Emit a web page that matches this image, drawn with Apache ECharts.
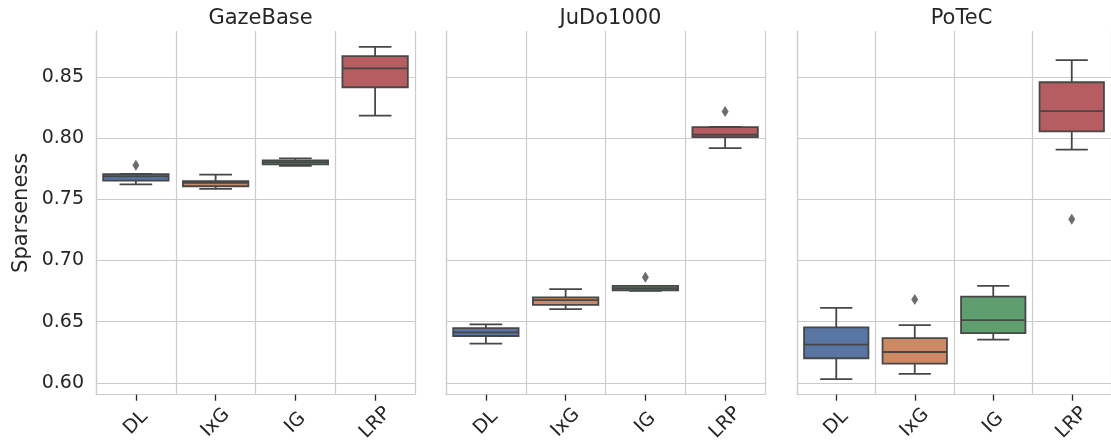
<!DOCTYPE html>
<html>
<head>
<meta charset="utf-8">
<script src="https://cdn.jsdelivr.net/npm/echarts@6/dist/echarts.min.js"></script>
<style>
  html, body { margin: 0; padding: 0; background: #ffffff; }
  #chart { width: 1111px; height: 444px; }
</style>
</head>
<body>
<div id="chart"></div>
<script>
// Attribution methods compared in every panel
const methods = ['DL', 'IxG', 'IG', 'LRP'];
const datasets = ['GazeBase', 'JuDo1000', 'PoTeC'];

// Box statistics per method: [lower whisker, Q1, median, Q3, upper whisker]
const gazeBaseStats = [
  [0.7623, 0.7653, 0.7688, 0.7705, 0.7708],
  [0.7586, 0.7607, 0.7634, 0.7648, 0.7702],
  [0.7773, 0.7786, 0.7803, 0.7818, 0.7835],
  [0.8185, 0.8416, 0.8571, 0.8671, 0.8747]
];
const juDoStats = [
  [0.6320, 0.6383, 0.6413, 0.6448, 0.6478],
  [0.6603, 0.6638, 0.6676, 0.6698, 0.6766],
  [0.6752, 0.6757, 0.6774, 0.6792, 0.6793],
  [0.7919, 0.8009, 0.8028, 0.8090, 0.8092]
];
const poTeCStats = [
  [0.6030, 0.6201, 0.6312, 0.6454, 0.6613],
  [0.6073, 0.6157, 0.6252, 0.6366, 0.6472],
  [0.6353, 0.6407, 0.6513, 0.6704, 0.6792],
  [0.7906, 0.8055, 0.8221, 0.8457, 0.8638]
];

// Outliers: [method index, value]
const gazeBaseOutliers = [[0, 0.7778]];
const juDoOutliers = [[2, 0.6863], [3, 0.8218]];
const poTeCOutliers = [[1, 0.6682], [3, 0.7338]];

// Y axis range and ticks
const yMin = 0.5903;
const yMax = 0.8876;
const yStep = 0.05;

const boxColors = ['#5975a4', '#cc8963', '#5f9e6e', '#b55d60'];
const lineColor = '#474747';
const gridColor = '#cccccc';
const textColor = '#262626';
const font = 'DejaVu Sans';

const allStats = [gazeBaseStats, juDoStats, poTeCStats];
const allOutliers = [gazeBaseOutliers, juDoOutliers, poTeCOutliers];

const panelLefts = [96, 446, 797];
const panelWidth = 319;
const panelTop = 31;
const panelHeight = 367;

const chart = echarts.init(document.getElementById('chart'), null, { renderer: 'canvas' });

function renderBox(params, api) {
  const idx = api.value(0);
  const band = api.size([1, 0])[0];
  const boxW = band * 0.82;
  const capW = boxW * 0.5;
  const lo = api.coord([idx, api.value(1)]);
  const q1 = api.coord([idx, api.value(2)]);
  const md = api.coord([idx, api.value(3)]);
  const q3 = api.coord([idx, api.value(4)]);
  const hi = api.coord([idx, api.value(5)]);
  const cx = lo[0];
  const stroke = { stroke: lineColor, lineWidth: 1.8, fill: null };
  return {
    type: 'group',
    children: [
      { type: 'line', shape: { x1: cx, y1: q1[1], x2: cx, y2: lo[1] }, style: stroke },
      { type: 'line', shape: { x1: cx - capW / 2, y1: lo[1], x2: cx + capW / 2, y2: lo[1] }, style: stroke },
      { type: 'line', shape: { x1: cx, y1: q3[1], x2: cx, y2: hi[1] }, style: stroke },
      { type: 'line', shape: { x1: cx - capW / 2, y1: hi[1], x2: cx + capW / 2, y2: hi[1] }, style: stroke },
      {
        type: 'rect',
        shape: { x: cx - boxW / 2, y: q3[1], width: boxW, height: q1[1] - q3[1] },
        style: { fill: boxColors[idx], stroke: lineColor, lineWidth: 1.8 }
      },
      { type: 'line', shape: { x1: cx - boxW / 2, y1: md[1], x2: cx + boxW / 2, y2: md[1] }, style: stroke }
    ]
  };
}

const grids = [], xAxes = [], yAxes = [], series = [], titles = [];
datasets.forEach((name, p) => {
  grids.push({ left: panelLefts[p], top: panelTop, width: panelWidth, height: panelHeight });
  titles.push({
    text: name,
    left: panelLefts[p] + panelWidth / 2,
    top: 3,
    textAlign: 'center',
    textStyle: { fontFamily: font, fontSize: 21, fontWeight: 'normal', color: textColor }
  });
  xAxes.push({
    type: 'category',
    gridIndex: p,
    data: methods,
    boundaryGap: true,
    axisLine: { show: true, lineStyle: { color: gridColor, width: 1.2 } },
    axisTick: { show: true, alignWithLabel: true, length: 6, lineStyle: { color: textColor, width: 1.3 } },
    splitLine: { show: true, lineStyle: { color: gridColor, width: 1.2 } },
    axisLabel: {
      rotate: 45,
      align: 'center',
      verticalAlign: 'middle',
      margin: 28,
      fontFamily: font,
      fontSize: 19,
      color: textColor
    }
  });
  yAxes.push({
    type: 'value',
    gridIndex: p,
    min: yMin,
    max: yMax,
    minInterval: yStep,
    maxInterval: yStep,
    splitNumber: 6,
    name: p === 0 ? 'Sparseness' : '',
    nameLocation: 'middle',
    nameRotate: 90,
    nameGap: 64,
    nameTextStyle: { fontFamily: font, fontSize: 21, color: textColor },
    axisLine: { show: true, lineStyle: { color: gridColor, width: 1.2 } },
    axisTick: { show: false },
    splitLine: { show: true, showMinLine: false, showMaxLine: false, lineStyle: { color: gridColor, width: 1.2 } },
    axisLabel: {
      show: p === 0,
      showMinLabel: false,
      showMaxLabel: false,
      margin: 12,
      fontFamily: font,
      fontSize: 19,
      color: textColor,
      formatter: v => v.toFixed(2)
    }
  });
  series.push({
    type: 'custom',
    xAxisIndex: p,
    yAxisIndex: p,
    renderItem: renderBox,
    encode: { x: 0, y: [1, 2, 3, 4, 5] },
    data: allStats[p].map((s, i) => [i].concat(s)),
    z: 3
  });
  series.push({
    type: 'scatter',
    xAxisIndex: p,
    yAxisIndex: p,
    symbol: 'diamond',
    symbolSize: [7, 11],
    itemStyle: { color: lineColor },
    data: allOutliers[p],
    z: 4
  });
});

chart.setOption({
  animation: false,
  backgroundColor: '#ffffff',
  title: titles,
  grid: grids,
  xAxis: xAxes,
  yAxis: yAxes,
  series: series
});
</script>
</body>
</html>
